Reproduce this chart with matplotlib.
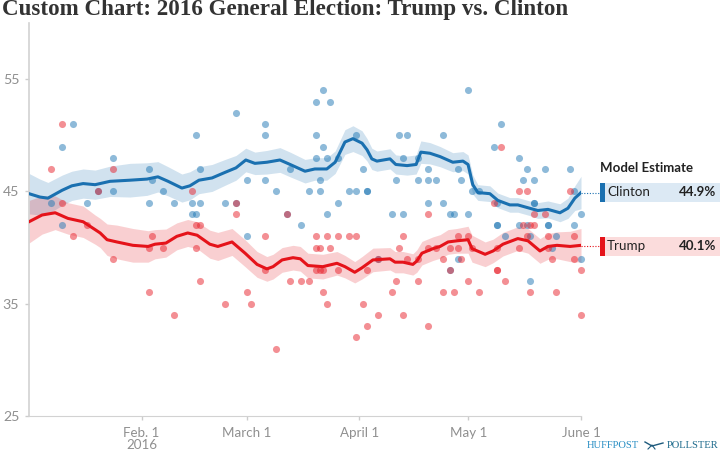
from matplotlib import pyplot as plt
from matplotlib.lines import Line2D
from matplotlib.patches import Rectangle

W, H = 720, 455

# days since Jan 1 2016, percent
tick_days = [31, 60, 91, 121, 152]
tick_labels = ["Feb. 1\n2016", "March 1", "April 1", "May 1", "June 1"]
y_ticks = [25, 35, 45, 55]

clinton_days = [0, 3, 5.2, 9.1, 11.8, 14.9, 18.2, 22.3, 27.8, 32.5, 35.5, 38.3, 42.1, 44.3, 46.8, 50.4, 54, 57, 59.7,
                62.2, 65.5, 69.1, 71.9, 76, 78.7, 82, 84.3, 87, 89.2, 91.7, 93.1, 94.4, 95.8, 99.4, 101, 104.1, 106.6,
                107.9, 110.4, 113.2, 116.7, 119.5, 120.9, 122.2, 123.6, 126.9, 129.1, 132.4, 134.6, 137.9, 140.1,
                142.9, 146.2, 148.4, 150.3, 152]
clinton_line = [44.8, 44.5, 44.4, 45.1, 45.5, 45.7, 45.6, 45.9, 46.0, 46.1, 46.3, 45.9, 45.3, 45.5, 46.0, 46.2, 46.7, 47.1, 47.8,
                47.5, 47.6, 47.8, 47.4, 46.8, 47.0, 47.0, 47.6, 49.4, 49.7, 49.3, 48.7, 47.9, 47.7, 47.9, 47.4, 47.3, 47.4,
                48.5, 48.4, 48.1, 47.6, 47.7, 47.4, 45.6, 44.9, 44.8, 44.2, 43.8, 43.8, 43.5, 43.3,
                43.4, 43.1, 43.5, 44.4, 44.9]
clinton_band = [1.8, 1.6, 1.4, 1.35, 1.3, 1.3, 1.3, 1.35, 1.5, 1.45, 1.35, 1.3, 1.25, 1.25, 1.2, 1.2, 1.15, 1.1, 1.05,
                1.0, 1.05, 1.1, 1.1, 1.05, 1.0, 1.0, 1.0, 1.1, 1.15, 1.1, 1.0, 0.95, 0.9, 0.9, 0.85, 0.85, 0.85,
                1.0, 0.95, 0.9, 0.85, 0.85, 0.85, 0.85, 0.7, 0.7, 0.65, 0.65, 0.65, 0.65, 0.7,
                0.75, 0.8, 0.9, 1.1, 1.45]

trump_days = [0, 3.6, 7.2, 10.7, 14.9, 18.2, 19.6, 21.5, 24.2, 28.6, 32.8, 34.7, 37.7, 40.7, 43.7, 46.3, 49.8, 52, 55.9,
              59.5, 62.8, 65.5, 67.2, 69.7, 72.7, 74.7, 76.8, 80.9, 84.8, 87, 89.7, 91.7, 94.7, 99.4, 100.8, 103, 105.7,
              106.8, 108.2, 111.2, 113.2, 115.4, 117.8, 120.9, 122, 125.6, 127.8, 130.5, 134.6, 137.4, 140.7,
              142.9, 145.4, 149, 152]
trump_line = [42.3, 42.9, 43.1, 42.6, 42.3, 41.6, 41.3, 40.7, 40.5, 40.2, 40.1, 40.3, 40.4, 41.0, 41.3, 41.1, 40.3, 40.1, 40.5,
              39.5, 38.5, 38.1, 38.3, 38.9, 39.1, 39.0, 38.4, 38.3, 38.6, 38.3, 37.8, 38.2, 38.9, 39.0, 38.7, 38.7, 38.5,
              38.8, 39.5, 39.9, 40.1, 40.5, 40.6, 40.7, 39.9, 39.4, 39.7, 40.3, 40.8, 40.6, 39.7,
              40.1, 40.2, 40.1, 40.2]
trump_band = [1.9, 1.7, 1.5, 1.4, 1.4, 1.3, 1.3, 1.4, 1.5, 1.5, 1.4, 1.3, 1.25, 1.2, 1.2, 1.2, 1.25, 1.25, 1.2,
              1.2, 1.15, 1.1, 1.1, 1.1, 1.1, 1.1, 1.1, 1.1, 1.05, 1.0, 0.95, 1.0, 1.05, 1.0, 0.95, 0.95, 0.95,
              1.0, 1.05, 1.05, 1.05, 1.1, 1.1, 1.2, 1.2, 1.1, 1.05, 1.05, 1.05, 1.1, 1.1,
              1.15, 1.2, 1.35, 1.5]

clinton_polls = [(12, 51), (65, 51), (130, 51), (81, 54), (121, 54), (79, 53), (83, 53), (57, 52),
                 (46, 50), (65, 50), (79, 50), (90, 50), (102, 50), (104, 50), (114, 50), (9, 49), (81, 49), (128, 49),
                 (23, 48), (79, 48), (82, 48), (85, 48), (103, 48), (107, 48), (135, 48),
                 (33, 47), (47, 47), (72, 47), (92, 47), (110, 47), (118, 47), (137, 47), (142, 47), (149, 47),
                 (34, 46), (60, 46), (65, 46), (80, 46), (101, 46), (107, 46), (110, 46), (112, 46), (119, 46), (136, 46), (139, 46),
                 (19, 45), (23, 45), (37, 45), (68, 45), (77, 45), (80, 45), (88, 45), (90, 45), (93, 45), (93, 45), (122, 45), (124, 45), (150, 45),
                 (6, 44), (16, 44), (33, 44), (40, 44), (45, 44), (47, 44), (54, 44), (57, 44), (85, 44), (110, 44), (114, 44), (129, 44), (139, 44), (139, 44),
                 (45, 43), (46, 43), (71, 43), (82, 43), (100, 43), (103, 43), (116, 43), (117, 43), (121, 43), (152, 43),
                 (9, 42), (75, 42), (129, 42), (129, 42), (135, 42), (137, 42), (143, 42), (143, 42), (150, 42),
                 (60, 41), (131, 41), (138, 41), (145, 41), (144, 40), (96, 39), (118, 39), (152, 39), (116, 38), (138, 37)]

trump_polls = [(9, 51), (130, 49), (6, 47), (23, 47),
               (19, 45), (45, 45), (135, 45), (137, 45), (149, 45), (9, 44), (57, 44), (128, 44),
               (57, 43), (71, 43), (110, 43), (139, 43), (142, 43),
               (16, 42), (46, 42), (47, 42), (136, 42), (138, 42), (139, 42),
               (12, 41), (34, 41), (65, 41), (79, 41), (82, 41), (85, 41), (88, 41), (90, 41), (103, 41), (118, 41), (121, 41), (137, 41), (143, 41), (150, 41),
               (33, 40), (37, 40), (46, 40), (79, 40), (80, 40), (83, 40), (102, 40), (110, 40), (112, 40), (116, 40), (118, 40), (122, 40), (129, 40), (135, 40), (143, 40),
               (23, 39), (96, 39), (104, 39), (107, 39), (114, 39), (119, 39), (144, 39), (150, 39),
               (65, 38), (79, 38), (80, 38), (81, 38), (85, 38), (93, 38), (116, 38), (129, 38), (129, 38), (152, 38),
               (47, 37), (72, 37), (75, 37), (77, 37), (101, 37), (107, 37), (121, 37), (131, 37),
               (33, 36), (60, 36), (81, 36), (100, 36), (114, 36), (117, 36), (124, 36), (138, 36), (145, 36),
               (54, 35), (61, 35), (82, 35), (92, 35), (40, 34), (96, 34), (103, 34), (152, 34),
               (93, 33), (110, 33), (90, 32), (68, 31)]

BLUE = "#1a70b0"
RED = "#e5131a"
GRAY = "#8f8f8f"
SANS = "Lato"


def fx(x):
    return x / W


def fy(y):
    return 1 - y / H


fig = plt.figure(figsize=(W / 100, H / 100), dpi=100)
ax = fig.add_axes([fx(29), fy(416), fx(552), 393 / H])

# bands, then polls, then the model lines
for days, line, band, col in [(clinton_days, clinton_line, clinton_band, BLUE),
                              (trump_days, trump_line, trump_band, RED)]:
    low = [v - b for v, b in zip(line, band)]
    high = [v + b for v, b in zip(line, band)]
    ax.fill_between(days, low, high, color=col, alpha=0.2, lw=0, zorder=1)

cx, cy = zip(*clinton_polls)
tx, ty = zip(*trump_polls)
ax.scatter(cx, cy, s=26, color="#1f77b4", alpha=0.5, lw=0, zorder=2, clip_on=False)
ax.scatter(tx, ty, s=26, color="#e8202a", alpha=0.5, lw=0, zorder=2, clip_on=False)

ax.plot(clinton_days, clinton_line, color=BLUE, lw=2.2, zorder=3, solid_joinstyle="round")
ax.plot(trump_days, trump_line, color=RED, lw=2.2, zorder=3, solid_joinstyle="round")

ax.set_xlim(0, 152)
ax.set_ylim(25, 60)
ax.set_yticks(y_ticks)
ax.set_xticks(tick_days)
ax.set_xticklabels(tick_labels, fontfamily=SANS, fontsize=9.6, color=GRAY, linespacing=1.0)
for lab in ax.get_yticklabels():
    lab.set_fontfamily(SANS)
    lab.set_fontsize(10.2)
    lab.set_color(GRAY)
ax.tick_params(axis="both", color="#cccccc", length=3, width=1)
ax.tick_params(axis="x", pad=5)
ax.tick_params(axis="y", pad=4)
ax.spines["top"].set_visible(False)
ax.spines["right"].set_visible(False)
ax.spines["left"].set_color("#d2d2d2")
ax.spines["left"].set_linewidth(1.2)
ax.spines["bottom"].set_color("#d2d2d2")

fig.text(fx(2), fy(10), "Custom Chart: 2016 General Election: Trump vs. Clinton", family="Liberation Serif",
         weight="bold", fontsize=16.55, color="#333333", va="center", ha="left")

# right hand legend, one row per candidate
fig.text(fx(600), fy(168), "Model Estimate", family=SANS, weight="bold", fontsize=9.5, color="#222222", va="center")
for name, val, yc, col, bg in [("Clinton", 44.9, 192.5, BLUE, "#dce9f4"), ("Trump", 40.1, 246, RED, "#fbdcdc")]:
    fig.add_artist(Rectangle((fx(600), fy(yc + 9.5)), fx(120), 19 / H, transform=fig.transFigure, color=bg, lw=0))
    fig.add_artist(Rectangle((fx(600), fy(yc + 9.5)), fx(5), 19 / H, transform=fig.transFigure, color=col, lw=0))
    fig.add_artist(Line2D([fx(581), fx(600)], [fy(yc), fy(yc)], transform=fig.transFigure, color=col, lw=0.8,
                          ls=(0, (1, 1.5))))
    fig.text(fx(607), fy(yc), name, family=SANS, fontsize=9.6, color="#222222", va="center")
    fig.text(fx(716), fy(yc), f"{val}%", family=SANS, weight="bold", fontsize=9.6, color="#222222", va="center",
             ha="right")

# footer logo
fig.text(fx(587), fy(445), "HUFFPOST", family="Liberation Serif", fontsize=7.6, color="#2a8fc4", va="center")
fig.text(fx(667), fy(445), "POLLSTER", family="Liberation Serif", fontsize=7.6, color="#1d6a8c", va="center")
fig.add_artist(Line2D([fx(645), fx(652), fx(663)], [fy(442), fy(446), fy(443)], transform=fig.transFigure,
                      color="#1d5a7c", lw=1))
fig.add_artist(Line2D([fx(648), fx(652), fx(655)], [fy(449), fy(445), fy(449)], transform=fig.transFigure,
                      color="#1d5a7c", lw=0.8))

fig.savefig("out.png", dpi=100)
